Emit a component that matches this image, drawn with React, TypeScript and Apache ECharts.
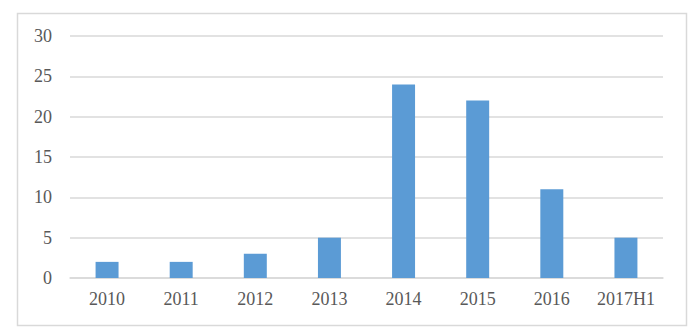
import React, { useEffect, useRef } from "react";
import * as echarts from "echarts";

const categories = ["2010", "2011", "2012", "2013", "2014", "2015", "2016", "2017H1"];
const values = [2, 2, 3, 5, 24, 22, 11, 5];
const yTicks = [0, 5, 10, 15, 20, 25, 30];

export default function App() {
  const ref = useRef<HTMLDivElement>(null);
  useEffect(() => {
    if (!ref.current) return;
    const chart = echarts.init(ref.current, undefined, { renderer: "svg" });
    const font = "'Liberation Serif', 'Times New Roman', serif";
    chart.setOption({
      animation: false,
      backgroundColor: "#ffffff",
      graphic: [
        {
          type: "rect",
          shape: { x: 17.5, y: 13.5, width: 669, height: 312 },
          style: { fill: "none", stroke: "#d9d9d9", lineWidth: 1.5 },
          silent: true,
        },
      ],
      grid: { left: 70, right: 37, top: 36, bottom: 57, containLabel: false },
      xAxis: {
        type: "category",
        data: categories,
        axisLine: { show: true, lineStyle: { color: "#d9d9d9", width: 1.5 } },
        axisTick: { show: false },
        axisLabel: { color: "#595959", fontFamily: font, fontSize: 18, margin: 12, interval: 0 },
      },
      yAxis: {
        type: "value",
        min: yTicks[0],
        max: yTicks[yTicks.length - 1],
        interval: 5,
        axisLine: { show: false },
        axisTick: { show: false },
        splitLine: { lineStyle: { color: "#d9d9d9", width: 1.5 } },
        axisLabel: { color: "#595959", fontFamily: font, fontSize: 18, margin: 18 },
      },
      series: [
        {
          type: "bar",
          data: values,
          barWidth: "31%",
          itemStyle: { color: "#5b9bd5" },
        },
      ],
    });
    return () => chart.dispose();
  }, []);
  return (
    <div
      ref={ref}
      style={{ position: "absolute", left: 0, top: 0, width: 700, height: 335 }}
    />
  );
}
